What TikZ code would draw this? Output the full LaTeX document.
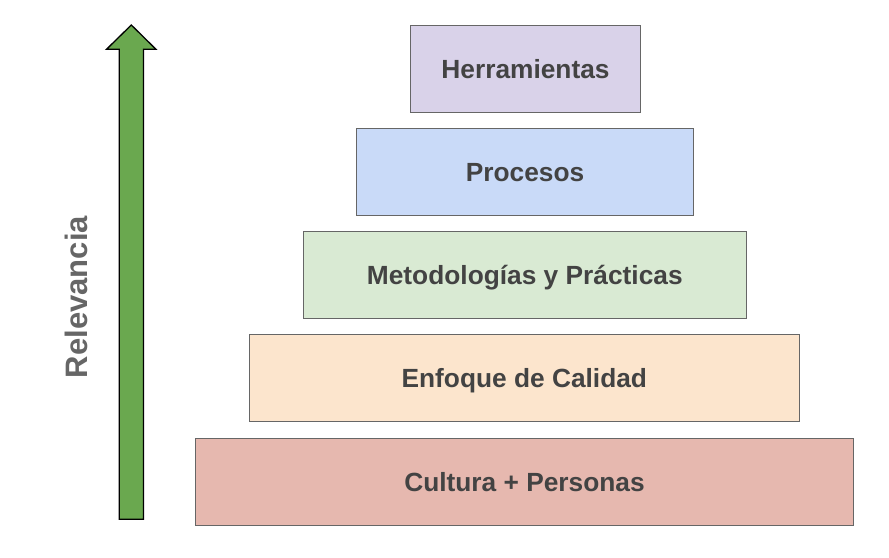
\documentclass[tikz,border=0pt]{standalone}
\usepackage{fontspec}
\setmainfont{Liberation Sans}
\definecolor{txt}{HTML}{434343}
\definecolor{edge}{HTML}{666666}
\definecolor{relg}{HTML}{666666}
\definecolor{arrowg}{HTML}{6AA84F}
\definecolor{cHer}{HTML}{D9D2E9}
\definecolor{cPro}{HTML}{C9DAF8}
\definecolor{cMet}{HTML}{D9EAD3}
\definecolor{cEnf}{HTML}{FCE5CD}
\definecolor{cCul}{HTML}{E6B8AF}
\begin{document}
\begin{tikzpicture}[x=1pt,y=-1pt,
  level/.style={draw=edge, line width=1.2pt, minimum height=87pt, inner sep=0pt,
     text height=18.8pt, text depth=0pt,
     font=\fontsize{26.3}{30}\selectfont\bfseries, text=txt},
  relabel/.style={font=\fontsize{31}{34}\selectfont\bfseries, text=relg, inner sep=0pt,
     text height=22.2pt, text depth=0pt, rotate=90}]
\useasboundingbox (0,0) rectangle (889,557);
\fill[white] (0,0) rectangle (889,557);
% arrow
\filldraw[fill=arrowg, draw=black, line width=1.3pt, line join=miter]
  (131.3,25) -- (156,49.3) -- (143.5,49.3) -- (143.5,519.3) -- (119.3,519.3)
  -- (119.3,49.3) -- (106.5,49.3) -- cycle;
\node[relabel] (rel) at (76.5,297) {Relevancia};
% levels
\node[level, fill=cHer, minimum width=230.5pt] (her) at (525.5,68.8) {Herramientas};
\node[level, fill=cPro, minimum width=337.5pt] (pro) at (525,171.8) {Procesos};
\node[level, fill=cMet, minimum width=443pt] (met) at (524.8,275) {Metodologías y Prácticas};
\node[level, fill=cEnf, minimum width=550pt] (enf) at (524.3,378.3) {Enfoque de Calidad};
\node[level, fill=cCul, minimum width=658.4pt] (cul) at (524.5,481.7) {Cultura + Personas};
\end{tikzpicture}
\end{document}
